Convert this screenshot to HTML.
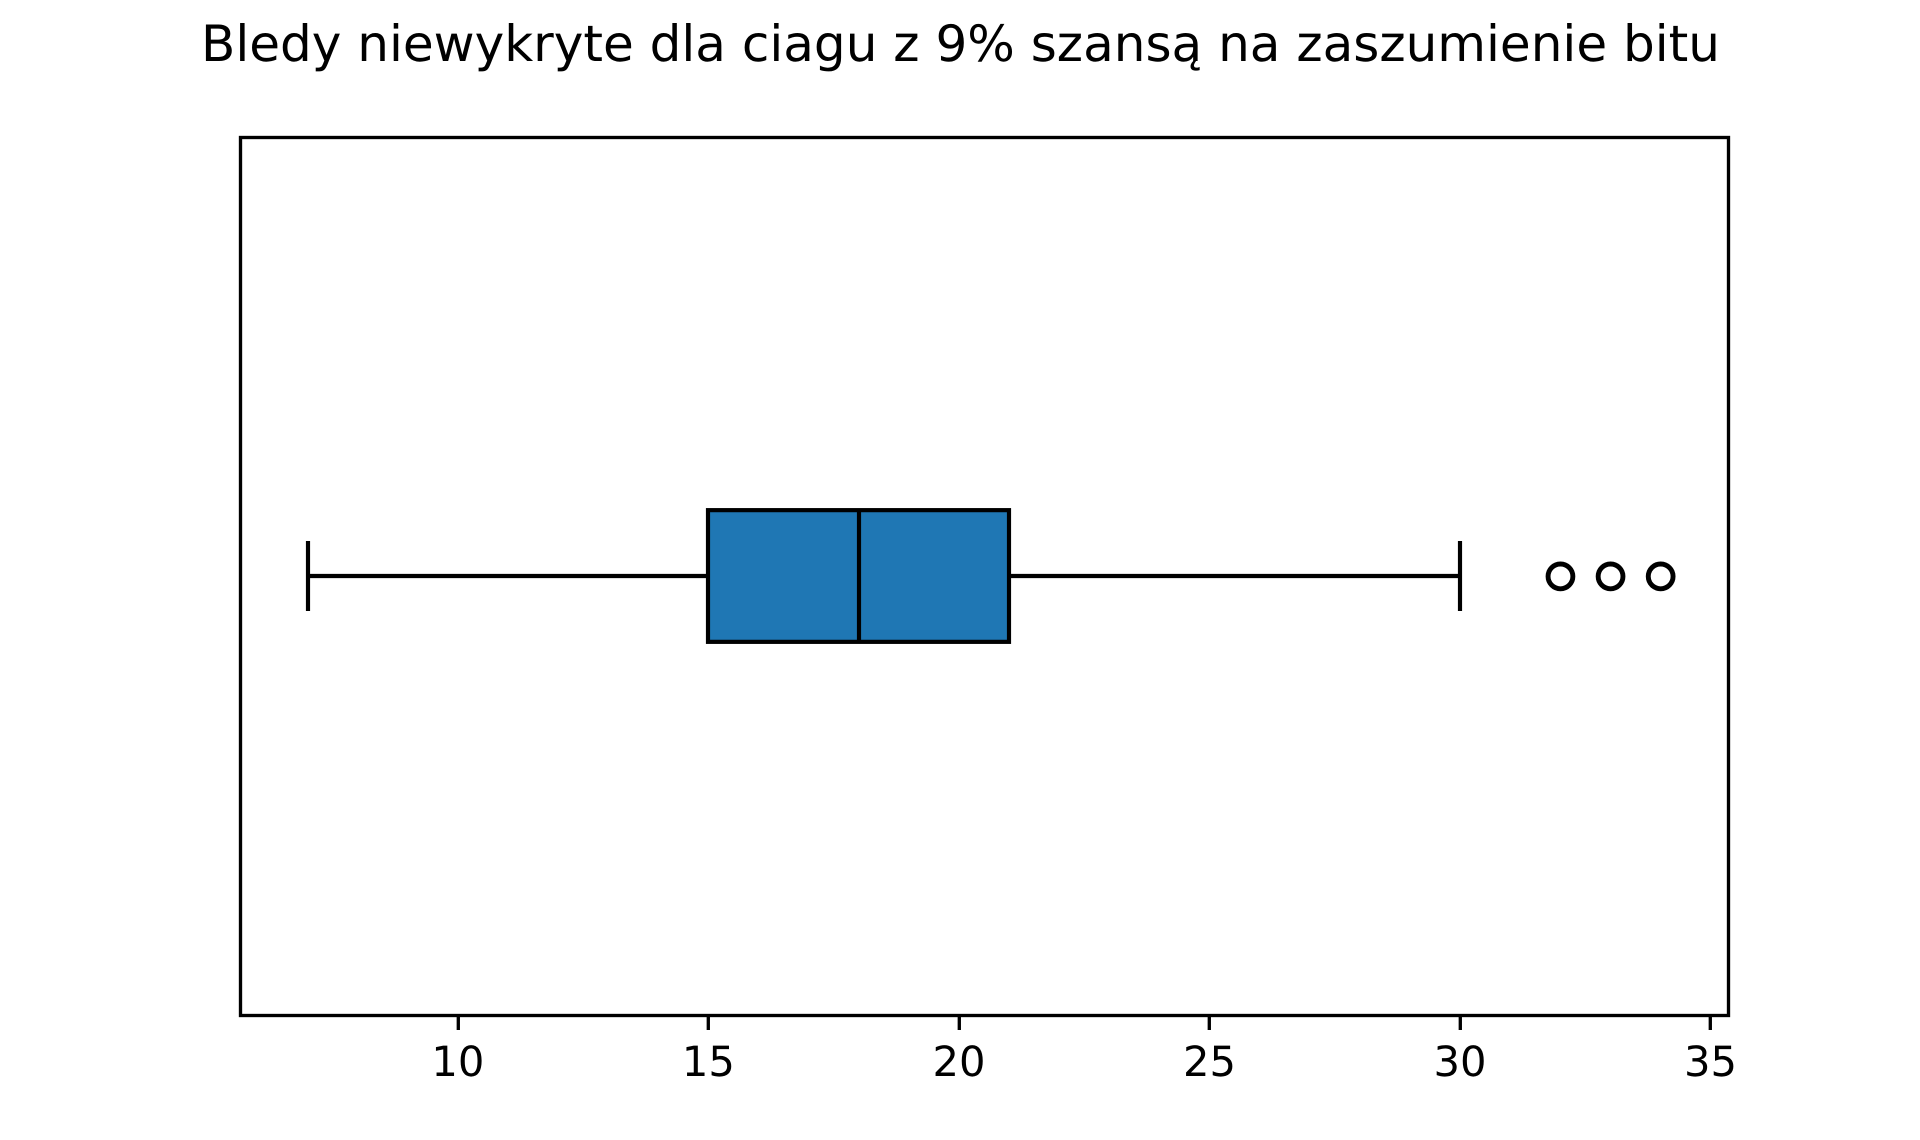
<!DOCTYPE html>
<html lang="pl">
<head>
<meta charset="utf-8">
<title>Bledy niewykryte</title>
<style>
  html, body { margin: 0; padding: 0; background: #fff; width: 1920px; height: 1140px; overflow: hidden; }
  svg { display: block; }
  text { font-family: "DejaVu Sans", "Liberation Sans", sans-serif; fill: #000; text-rendering: geometricPrecision; }
</style>
</head>
<body>
<svg id="chart" xmlns="http://www.w3.org/2000/svg" width="1920" height="1140" viewBox="0 0 1920 1140">
  <rect x="0" y="0" width="1920" height="1140" fill="#fff"/>
  <text x="960.5" y="61" font-size="50.04" text-anchor="middle">Bledy niewykryte dla ciagu z 9% szansą na zaszumienie bitu</text>
  <g id="marks"></g>
  <rect x="240.5" y="137.5" width="1488" height="878" fill="none" stroke="#000" stroke-width="3.33"/>
  <g id="x-axis"></g>
</svg>
<script>
const tickValues = [10, 15, 20, 25, 30, 35];
const tickLabels = ["10", "15", "20", "25", "30", "35"];
const whiskerLow = 7;
const quartileLow = 15;
const medianValue = 18;
const quartileHigh = 21;
const whiskerHigh = 30;
const outliers = [32, 33, 34];

const NS = 'http://www.w3.org/2000/svg';
const plot = { left: 240, right: 1728, top: 137, bottom: 1015 };
const allValues = [whiskerLow, quartileLow, medianValue, quartileHigh, whiskerHigh].concat(outliers);
const dataMin = Math.min.apply(null, allValues);
const dataMax = Math.max.apply(null, allValues);
const margin = (dataMax - dataMin) * 0.05;
const xMin = dataMin - margin;
const xMax = dataMax + margin;
function xScale(v) {
  return plot.left + (v - xMin) / (xMax - xMin) * (plot.right - plot.left);
}
function xSnap(v) {
  return Math.round(xScale(v));
}
function yScale(v) {
  return plot.bottom - (v - 0.5) * (plot.bottom - plot.top);
}
function make(tag, parent, attrs) {
  const el = document.createElementNS(NS, tag);
  for (const k in attrs) el.setAttribute(k, attrs[k]);
  parent.appendChild(el);
  return el;
}
const marks = document.getElementById('marks');
const axis = document.getElementById('x-axis');
const lw = 4.17;
const boxTop = yScale(1.075);
const boxBottom = yScale(0.925);
const capTop = yScale(1.0375);
const capBottom = yScale(0.9625);
const midY = yScale(1);

const whiskerLeft = make('line', marks, { x1: xSnap(whiskerLow), x2: xSnap(quartileLow), y1: midY, y2: midY, stroke: '#000', 'stroke-width': lw });



const whiskerRight = make('line', marks, { x1: xSnap(quartileHigh), x2: xSnap(whiskerHigh), y1: midY, y2: midY, stroke: '#000', 'stroke-width': lw });



const capLow = make('line', marks, { x1: xSnap(whiskerLow), x2: xSnap(whiskerLow), y1: capTop, y2: capBottom, stroke: '#000', 'stroke-width': lw, 'stroke-linecap': 'square' });



const capHigh = make('line', marks, { x1: xSnap(whiskerHigh), x2: xSnap(whiskerHigh), y1: capTop, y2: capBottom, stroke: '#000', 'stroke-width': lw, 'stroke-linecap': 'square' });



const box = make('rect', marks, { x: xSnap(quartileLow), y: boxTop, width: xSnap(quartileHigh) - xSnap(quartileLow), height: boxBottom - boxTop, fill: '#1f77b4', stroke: '#000', 'stroke-width': lw });



const median = make('line', marks, { x1: xSnap(medianValue), x2: xSnap(medianValue), y1: boxTop, y2: boxBottom, stroke: '#000', 'stroke-width': lw });



outliers.forEach(function (v) {
  const dot = make('circle', marks, { cx: xScale(v) + 0.3, cy: midY + 0.4, r: 12.4, fill: 'none', stroke: '#000', 'stroke-width': 4.9 });
  
  
});

tickValues.forEach(function (v, i) {
  const x = xSnap(v) + 0.3;
  const tick = make('line', axis, { x1: x, x2: x, y1: plot.bottom + 0.5, y2: plot.bottom + 15, stroke: '#000', 'stroke-width': 3.33 });
  
  
  const label = make('text', axis, { x: xScale(v), y: 1076, 'font-size': 41.67, 'text-anchor': 'middle' });
  label.textContent = tickLabels[i];
  
  
});
</script>
</body>
</html>
